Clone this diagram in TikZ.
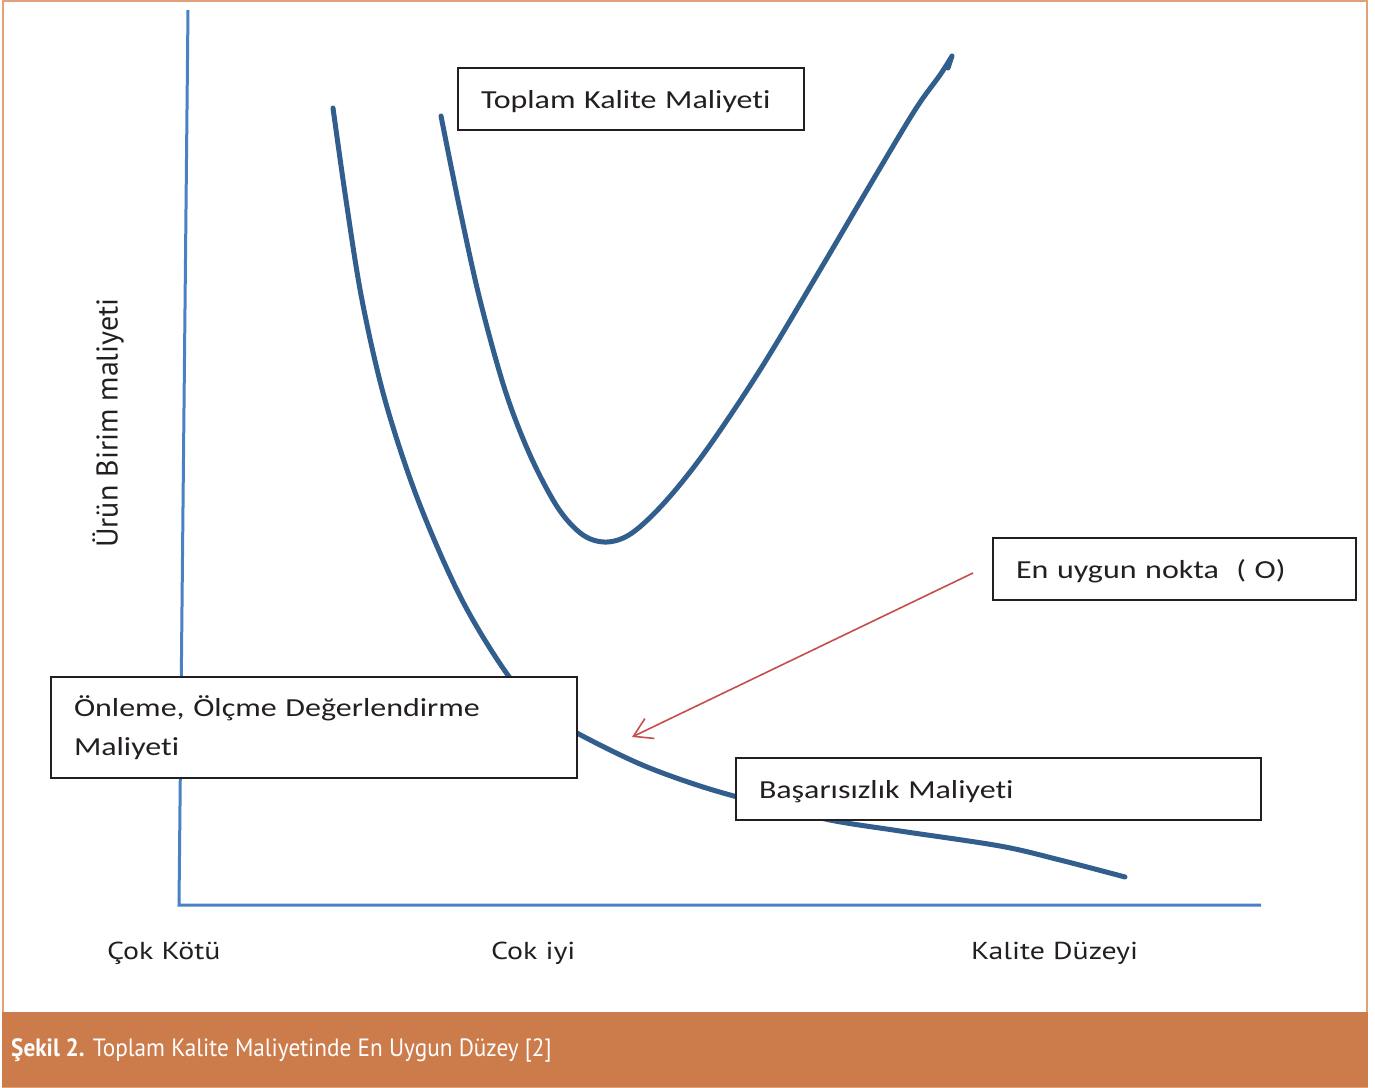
\documentclass[tikz,border=0pt]{standalone}
\usepackage{fontspec}
\usetikzlibrary{arrows.meta}
\newfontfamily\boxfont[FakeStretch=1.23,Ligatures={NoCommon},RawFeature={-liga;-dlig}]{Carlito}
\newfontfamily\lblfont[FakeStretch=1.22,Ligatures={NoCommon}]{PT Sans}
\newfontfamily\ylblfont[Ligatures={NoCommon}]{PT Sans}
\newfontfamily\capfont[FakeStretch=0.93,Ligatures={NoCommon}]{PT Sans}
\newcommand\nolig{\kern0pt}
\definecolor{curveblue}{RGB}{50,94,142}
\definecolor{axisblue}{RGB}{74,128,196}
\definecolor{frameor}{RGB}{224,162,122}
\definecolor{baror}{RGB}{204,123,74}
\definecolor{arrred}{RGB}{196,78,74}
\definecolor{txt}{RGB}{35,31,32}
\tikzset{
  lbox/.style={draw=txt, line width=2pt, fill=white, rectangle, inner xsep=23pt, inner ysep=0pt,
    align=left, text=txt, font=\boxfont\fontsize{26}{39}\selectfont},
  onebox/.style={lbox, minimum height=62pt, text height=24pt, text depth=5pt},
  axlbl/.style={anchor=west, inner sep=0pt, text=txt, font=\lblfont\fontsize{24.5}{28}\selectfont},
  crv/.style={draw=curveblue, line width=5pt, line cap=round, line join=round},
  axline/.style={draw=axisblue, line width=3pt},
}
\begin{document}
\begin{tikzpicture}[x=1pt,y=-1pt]
\useasboundingbox (0,0) rectangle (1375,1087);
% frame and caption bar
\draw[frameor, line width=2pt] (3,1) rectangle (1367,1087);
\fill[baror] (2,1012) rectangle (1368,1087);
\node[anchor=west, inner sep=0pt, text=white, font=\capfont\fontsize{25}{29}\selectfont] (cap) at (11,1050) {\textbf{Şekil 2.} Toplam Kalite Maliyetinde En Uygun Düzey [2]};
% axes
\coordinate (ytop) at (188,10);
\coordinate (orig) at (179,905);
\coordinate (xend) at (1261,905);
\draw[axline] (ytop) -- (orig) -- (xend);
% curves
\draw[crv] plot[smooth, tension=0.55] coordinates {(333,108) (346,200) (362,300) (385,400) (418,500) (462,600) (510,678) (545,712) (577,733) (640,764) (700,786) (760,803) (830,820) (900,831) (1000,846) (1060,860) (1125,877)};
\draw[crv] plot[smooth, tension=0.55] coordinates {(441,116) (460,210) (480,300) (505,390) (530,455) (558,508) (583,535) (607,542) (632,533) (665,502) (705,452) (760,370) (820,270) (870,185) (915,110) (940,75) (952,56)} -- (948,68);
% boxes
\node[onebox, minimum width=346pt, text width=300pt] (tkm) at (631,99) {Toplam Kalite Maliyet\nolig i};
\node[onebox, minimum width=363pt, text width=317pt] (opt) at (1174.5,569) {En uygun nokta\ \ ( O)};
\node[lbox, minimum width=526pt, minimum height=101pt, text width=480pt] (onl) at (314,727.5) {Önleme, Ölçme Değerlendirme\\Maliyet\nolig i};
\node[onebox, minimum width=525pt, text width=479pt] (bas) at (998.5,789) {Başarısızlık Maliyet\nolig i};
% arrow
\coordinate (arrS) at (973,573);
\coordinate (arrE) at (632,737);
\draw[arrred, line width=1.6pt, -{Straight Barb[length=18pt,width=22pt,line width=1.6pt]}] (arrS) -- (arrE);
% axis labels
\node[axlbl] (l1) at (107,953) {Çok Kötü};
\node[axlbl] (l2) at (491,953) {Cok iyi};
\node[axlbl] (l3) at (971,953) {Kalite Düzeyi};
\node[rotate=90, inner sep=0pt, text=txt, font=\ylblfont\fontsize{30}{34}\selectfont] (yl) at (108,423) {Ürün Birim maliyet\nolig i};
\end{tikzpicture}
\end{document}
